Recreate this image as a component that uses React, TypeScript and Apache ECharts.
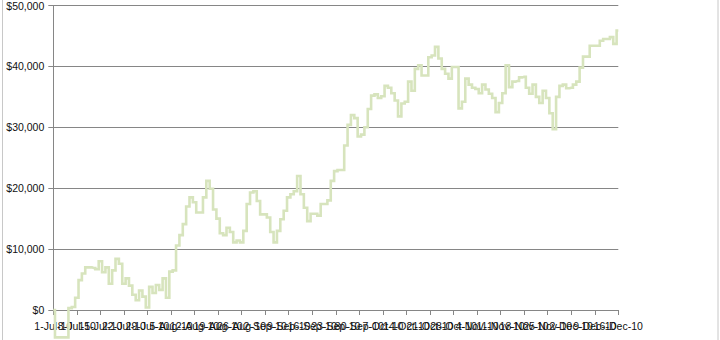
import React, { useEffect, useRef } from "react";
import * as echarts from "echarts";

// Daily values starting 1-Jul-2010 (one value per calendar day)
const startDate = "2010-07-01";
const values: number[] = [
  0, -4500, -4500, -4500, -4500, 300, 500, 2000, 4900, 6000,
  7000, 7000, 6900, 6700, 8000, 6200, 7000, 4300, 6500, 8400,
  7600, 4300, 5200, 4000, 2500, 1600, 3200, 2200, 400, 3800,
  2800, 4100, 3300, 5200, 2000, 6300, 6500, 10600, 12300, 14100,
  17000, 18500, 17700, 16000, 16000, 18500, 21200, 19900, 16500, 15000,
  12600, 12300, 13500, 12800, 11100, 11400, 11100, 13000, 17400, 19300,
  19500, 17900, 15700, 15700, 15200, 12800, 11100, 13000, 14900, 16300,
  18500, 19000, 19500, 22000, 19000, 16800, 14600, 15800, 15800, 15500,
  17400, 17400, 18000, 21200, 22800, 23000, 23000, 27000, 30400, 32000,
  31500, 28500, 28800, 30000, 33000, 35200, 35400, 34800, 35100, 36800,
  36500, 35600, 34400, 31800, 33900, 34200, 37500, 36000, 39600, 40200,
  38500, 38500, 41500, 41800, 43200, 41300, 39600, 38800, 38000, 39900,
  39900, 33100, 34200, 38000, 37000, 36500, 36300, 35600, 37000, 36200,
  35500, 34800, 32500, 34000, 35600, 40200, 36600, 37500, 37600, 38200,
  38300, 36500, 35500, 37000, 35000, 34000, 36000, 34800, 32300, 29700,
  35000, 36800, 37000, 36400, 36500, 37000, 37500, 39800, 41600, 41600,
  43400, 43400, 43400, 44200, 44500, 44500, 44800, 43700, 45900,
];
const yTicks = [0, 10000, 20000, 30000, 40000, 50000];
const xTickDays = 7;
const lastDay = 168;
const months = ["Jan", "Feb", "Mar", "Apr", "May", "Jun", "Jul", "Aug", "Sep", "Oct", "Nov", "Dec"];

const DAY = 86400000;
const start = Date.parse(startDate + "T00:00:00Z");

function dayLabel(d: number): string {
  const dt = new Date(start + d * DAY);
  return `${dt.getUTCDate()}-${months[dt.getUTCMonth()]}-${String(dt.getUTCFullYear()).slice(2)}`;
}

export default function App() {
  const ref = useRef<HTMLDivElement>(null);
  useEffect(() => {
    if (!ref.current) return;
    const chart = echarts.init(ref.current, undefined, { renderer: "svg" });
    const data = values.map((v, i) => [i, v]);
    const font = "Liberation Sans, Arial, sans-serif";
    const labelBase = {
      show: true,
      margin: 10,
      fontSize: 10.5,
      fontFamily: font,
      color: "#111",
      hideOverlap: false,
      showMinLabel: true,
      showMaxLabel: true,
    };
    chart.setOption({
      animation: false,
      grid: { left: 53.3, right: 101.7, top: 2.7, bottom: 30, containLabel: false },
      xAxis: [
        {
          type: "value",
          min: 0,
          max: lastDay,
          interval: xTickDays,
          axisLine: { show: true, onZero: false, lineStyle: { color: "#868686", width: 1 } },
          axisTick: { show: true, length: 5, lineStyle: { color: "#868686" } },
          splitLine: { show: false },
          axisLabel: {
            ...labelBase,
            formatter: (v: number) =>
              v % xTickDays === 0 && v !== 0 && v !== lastDay ? dayLabel(v) : "",
          },
        },
        {
          type: "value",
          position: "bottom",
          min: 0,
          max: lastDay,
          interval: xTickDays,
          axisLine: { show: false },
          axisTick: { show: false },
          splitLine: { show: false },
          axisLabel: {
            ...labelBase,
            formatter: (v: number) => (v === 0 || v === lastDay ? dayLabel(v) : ""),
          },
        },
      ],
      yAxis: {
        type: "value",
        min: yTicks[0],
        max: yTicks[yTicks.length - 1],
        interval: 10000,
        axisLine: { show: true, lineStyle: { color: "#868686", width: 1 } },
        axisTick: { show: true, length: 5, lineStyle: { color: "#868686" } },
        splitLine: { show: true, lineStyle: { color: "#868686", width: 1 } },
        axisLabel: {
          margin: 9,
          fontSize: 10.5,
          fontFamily: font,
          color: "#111",
          showMinLabel: true,
          showMaxLabel: true,
          formatter: (v: number) => "$" + v.toLocaleString("en-US"),
        },
      },
      series: [
        {
          type: "line",
          data,
          step: "middle",
          showSymbol: false,
          clip: false,
          lineStyle: { color: "#D7E4BD", width: 2.6, join: "miter", cap: "butt" },
          z: 3,
        },
      ],
      graphic: [
        {
          type: "rect",
          shape: { x: 2.5, y: -10, width: 715.5, height: 360 },
          style: { fill: "none", stroke: "#c8c8c8", lineWidth: 1 },
          silent: true,
          z: -1,
        },
      ],
    });
    return () => chart.dispose();
  }, []);
  return (
    <div
      ref={ref}
      style={{ position: "absolute", left: 0, top: 0, width: 720, height: 340 }}
    />
  );
}
